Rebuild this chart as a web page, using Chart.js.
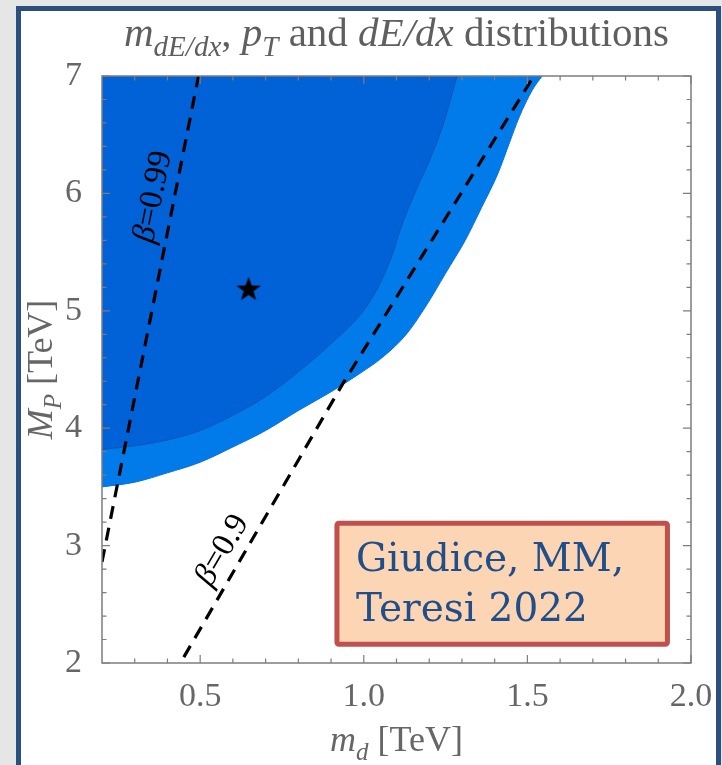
<!DOCTYPE html>
<html>
<head>
<meta charset="utf-8">
<script src="https://cdn.jsdelivr.net/npm/chart.js@4.4.1/dist/chart.umd.min.js"></script>
<style>
    html, body { margin: 0; padding: 0; }
    body { width: 722px; height: 765px; background: #e6e6e6; position: relative; overflow: hidden; }
    #frame { position: absolute; left: 16px; top: 6px; width: 705px; height: 800px; box-sizing: border-box;
             border: 5px solid #2b4f7f; background: #fff; }
    #chart { position: absolute; left: 0; top: 0; }
</style>
</head>
<body>
<div id="frame"></div>
<canvas id="chart" width="722" height="765"></canvas>
<script>
// Contour boundaries (m_d, M_P in TeV)
const darkX = [0.2, 0.3, 0.4, 0.5, 0.6, 0.7, 0.8, 0.9, 0.99, 1.04, 1.09, 1.11, 1.16, 1.21, 1.25, 1.27, 1.285];
const darkY = [3.82, 3.85, 3.90, 3.98, 4.11, 4.27, 4.48, 4.72, 4.97, 5.18, 5.50, 5.68, 6.03, 6.34, 6.65, 6.85, 7.0];
const lightX = [0.2, 0.3, 0.4, 0.5, 0.6, 0.7, 0.8, 0.9, 0.99, 1.06, 1.13, 1.19, 1.25, 1.31, 1.36, 1.41, 1.445, 1.475, 1.515, 1.545];
const lightY = [3.50, 3.54, 3.62, 3.71, 3.84, 3.98, 4.15, 4.31, 4.47, 4.61, 4.80, 5.04, 5.32, 5.60, 5.88, 6.17, 6.43, 6.65, 6.88, 7.0];

// beta contours
const beta99X = [0.2, 0.495];
const beta99Y = [2.86, 7.0];
const beta90X = [0.45, 0.936, 1.52];
const beta90Y = [2.05, 4.38, 7.0];

// benchmark point
const starX = [0.648];
const starY = [5.18];

// axes
const xTickValues = [0.5, 1.0, 1.5, 2.0];
const yTickValues = [2, 3, 4, 5, 6, 7];
const xMinorTicks = [0.3, 0.4, 0.6, 0.7, 0.8, 0.9, 1.1, 1.2, 1.3, 1.4, 1.6, 1.7, 1.8, 1.9];
const yMinorTicks = [2.2, 2.4, 2.6, 2.8, 3.2, 3.4, 3.6, 3.8, 4.2, 4.4, 4.6, 4.8, 5.2, 5.4, 5.6, 5.8, 6.2, 6.4, 6.6, 6.8];

// label anchors (data coords)
const beta99Label = { x: 0.357, y: 5.97, text: '=0.99' };
const beta90Label = { x: 0.568, y: 2.96, text: '=0.9' };
const creditBox = { x0: 0.918, x1: 1.928, y0: 3.19, y1: 2.16 };
const creditLines = ['Giudice, MM,', 'Teresi 2022'];

const SERIF = '"Liberation Serif", "Times New Roman", serif';
const GRAY = '#666666';

const pts = (xs, ys) => xs.map((x, i) => ({ x, y: ys[i] }));

// filled five-point star used as point style
function makeStar(r) {
    const c = document.createElement('canvas');
    c.width = c.height = 2 * r + 2;
    const g = c.getContext('2d');
    g.fillStyle = '#000';
    g.beginPath();
    for (let i = 0; i < 10; i++) {
        const rad = i % 2 === 0 ? r : r * 0.4;
        const a = -Math.PI / 2 + i * Math.PI / 5;
        const px = r + 1 + rad * Math.cos(a);
        const py = r + 1 + rad * Math.sin(a);
        i === 0 ? g.moveTo(px, py) : g.lineTo(px, py);
    }
    g.closePath();
    g.fill();
    return c;
}

function fontFor(p, size) {
    const s = p.sub ? Math.round(size * 0.7) : size;
    return `${p.it ? 'italic ' : ''}${s}px ${SERIF}`;
}

// draw a run of text pieces (italic / subscript) centred on cx
function drawRich(ctx, parts, cx, baseY, size) {
    let w = 0;
    parts.forEach(p => { ctx.font = fontFor(p, size); w += ctx.measureText(p.t).width; });
    let xx = cx - w / 2;
    parts.forEach(p => {
        ctx.font = fontFor(p, size);
        ctx.fillText(p.t, xx, baseY + (p.sub ? size * 0.25 : 0));
        xx += ctx.measureText(p.t).width;
    });
}

function drawBetaLabel(chart, xs, ys, lbl) {
    const { ctx, scales: { x, y } } = chart;
    const ang = Math.atan2(y.getPixelForValue(ys[1]) - y.getPixelForValue(ys[0]),
                           x.getPixelForValue(xs[1]) - x.getPixelForValue(xs[0]));
    ctx.save();
    ctx.translate(x.getPixelForValue(lbl.x), y.getPixelForValue(lbl.y));
    ctx.rotate(ang);
    ctx.fillStyle = '#000';
    ctx.textBaseline = 'middle';
    drawRich(ctx, [{ t: '\u03B2', it: 1 }, { t: lbl.text }], 0, 0, 33);
    ctx.restore();
}

const overlayPlugin = {
    id: 'overlay',
    afterDraw(chart) {
        const { ctx, chartArea: a, scales: { x, y } } = chart;
        ctx.save();

        // plot frame and inward ticks on all sides
        ctx.strokeStyle = '#7d7d7d';
        ctx.lineWidth = 1.5;
        ctx.strokeRect(a.left, a.top, a.right - a.left, a.bottom - a.top);
        ctx.lineWidth = 1.2;
        ctx.beginPath();
        const xt = (v, len) => {
            const px = x.getPixelForValue(v);
            ctx.moveTo(px, a.bottom); ctx.lineTo(px, a.bottom - len);
            ctx.moveTo(px, a.top); ctx.lineTo(px, a.top + len);
        };
        const yt = (v, len) => {
            const py = y.getPixelForValue(v);
            ctx.moveTo(a.left, py); ctx.lineTo(a.left + len, py);
            ctx.moveTo(a.right, py); ctx.lineTo(a.right - len, py);
        };
        xTickValues.forEach(v => xt(v, 8));
        xMinorTicks.forEach(v => xt(v, 4.5));
        yTickValues.forEach(v => yt(v, 8));
        yMinorTicks.forEach(v => yt(v, 4.5));
        ctx.stroke();

        // beta labels
        drawBetaLabel(chart, beta99X, beta99Y, beta99Label);
        drawBetaLabel(chart, beta90X, beta90Y, beta90Label);

        // credit box
        const bx0 = x.getPixelForValue(creditBox.x0), bx1 = x.getPixelForValue(creditBox.x1);
        const by0 = y.getPixelForValue(creditBox.y0), by1 = y.getPixelForValue(creditBox.y1);
        ctx.fillStyle = '#fbd5b4';
        ctx.strokeStyle = '#c0504d';
        ctx.lineWidth = 5;
        ctx.beginPath();
        ctx.roundRect(bx0, by0, bx1 - bx0, by1 - by0, 2);
        ctx.fill();
        ctx.stroke();
        ctx.fillStyle = '#1f4e88';
        ctx.font = '39px "DejaVu Serif", serif';
        ctx.textBaseline = 'alphabetic';
        ctx.fillText(creditLines[0], bx0 + 19, by0 + 48);
        ctx.fillText(creditLines[1], bx0 + 19, by0 + 98);

        // titles
        const cx = (a.left + a.right) / 2;
        const cy = (a.top + a.bottom) / 2;
        ctx.fillStyle = '#5f5f5f';
        drawRich(ctx, [
            { t: 'm', it: 1 }, { t: 'dE/dx', it: 1, sub: 1 }, { t: ', ' },
            { t: 'p', it: 1 }, { t: 'T', it: 1, sub: 1 }, { t: ' and ' },
            { t: 'dE/dx', it: 1 }, { t: ' distributions' }
        ], cx, 46, 41);
        ctx.fillStyle = GRAY;
        drawRich(ctx, [{ t: 'm', it: 1 }, { t: 'd', it: 1, sub: 1 }, { t: ' [TeV]' }], cx, 751, 36);
        ctx.save();
        ctx.translate(52, cy);
        ctx.rotate(-Math.PI / 2);
        drawRich(ctx, [{ t: 'M', it: 1 }, { t: 'P', it: 1, sub: 1 }, { t: ' [TeV]' }], 0, 0, 36);
        ctx.restore();

        ctx.restore();
    }
};

const tickFont = { family: SERIF, size: 34 };

new Chart(document.getElementById('chart'), {
    type: 'line',
    data: {
        datasets: [
            {
                data: pts(starX, starY),
                showLine: false,
                pointStyle: makeStar(13),
                pointRadius: 13,
                order: 0
            },
            {
                data: pts(beta99X, beta99Y),
                borderColor: '#000',
                borderWidth: 3.2,
                borderDash: [13, 9],
                pointRadius: 0,
                fill: false,
                order: 1
            },
            {
                data: pts(beta90X, beta90Y),
                borderColor: '#000',
                borderWidth: 3.2,
                borderDash: [13, 9],
                pointRadius: 0,
                fill: false,
                order: 1
            },
            {
                data: pts(darkX, darkY),
                borderColor: '#0b55b5',
                backgroundColor: '#0062d6',
                borderWidth: 1,
                pointRadius: 0,
                cubicInterpolationMode: 'monotone',
                fill: 'end',
                order: 2
            },
            {
                data: pts(lightX, lightY),
                borderColor: '#0a6fd6',
                backgroundColor: '#017aea',
                borderWidth: 1,
                pointRadius: 0,
                cubicInterpolationMode: 'monotone',
                fill: 'end',
                order: 3
            }
        ]
    },
    options: {
        responsive: false,
        devicePixelRatio: 1,
        animation: false,
        layout: { padding: { top: 76, right: 31, left: 0, bottom: 0 } },
        plugins: { legend: { display: false }, tooltip: { enabled: false } },
        scales: {
            x: {
                type: 'linear',
                min: 0.2,
                max: 2.0,
                afterBuildTicks: s => { s.ticks = xTickValues.map(v => ({ value: v })); },
                afterFit: s => { s.height = 102; },
                grid: { display: false },
                border: { display: false },
                ticks: { font: tickFont, color: GRAY, padding: 6, maxRotation: 0, autoSkip: false,
                         callback: v => v.toFixed(1) }
            },
            y: {
                type: 'linear',
                min: 2,
                max: 7,
                afterBuildTicks: s => { s.ticks = yTickValues.map(v => ({ value: v })); },
                afterFit: s => { s.width = 102; },
                grid: { display: false },
                border: { display: false },
                ticks: { font: tickFont, color: GRAY, padding: 12, callback: v => String(v) }
            }
        }
    },
    plugins: [overlayPlugin]
});
</script>
</body>
</html>
